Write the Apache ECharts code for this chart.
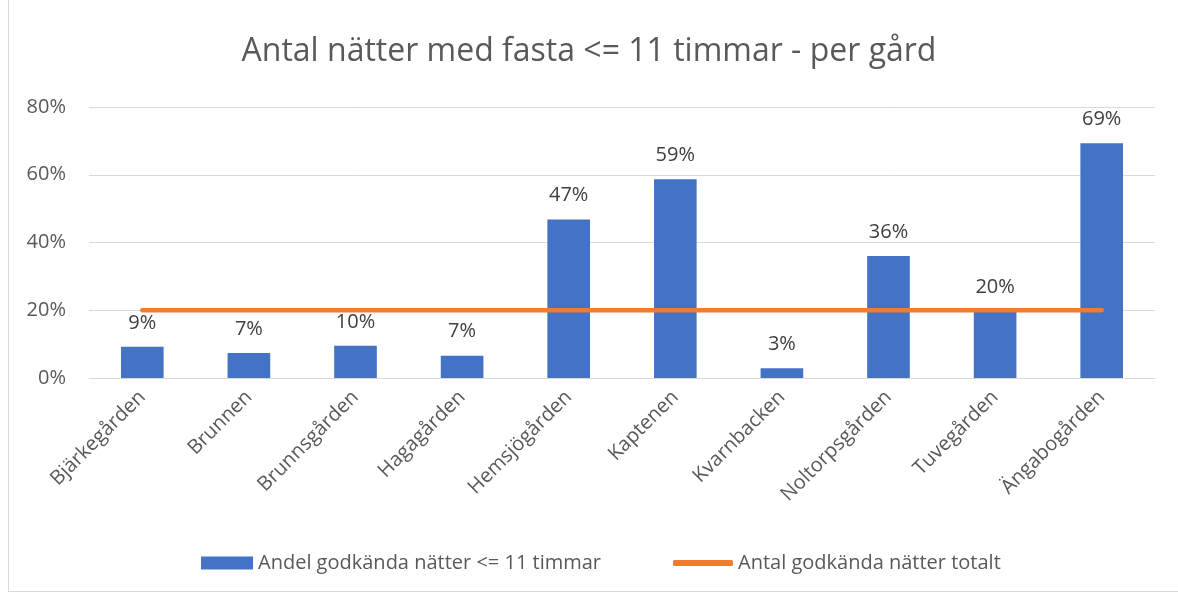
<!DOCTYPE html>
<html>
<head>
<meta charset="utf-8">
<script src="https://cdn.jsdelivr.net/npm/echarts@6/dist/echarts.min.js"></script>
<style>
  html, body { margin: 0; padding: 0; background: #fff; }
  #frame { position: absolute; left: 8px; top: -2px; width: 1180px; height: 592px; border: 1px solid #d9d9d9; }
  #chart { position: absolute; left: 0; top: 0; width: 1178px; height: 595px; }
</style>
</head>
<body>
<div id="frame"></div>
<div id="chart"></div>
<script>
// kategorier (gårdar)
var farms = ['Bjärkegården', 'Brunnen', 'Brunnsgården', 'Hagagården', 'Hemsjögården',
  'Kaptenen', 'Kvarnbacken', 'Noltorpsgården', 'Tuvegården', 'Ängabogården'];
// andel godkända nätter <= 11 timmar (%)
var shareOk = [9.2, 7.4, 9.5, 6.6, 46.8, 58.7, 2.9, 36.0, 19.7, 69.3];
// antal godkända nätter totalt (%)
var totalOk = [20, 20, 20, 20, 20, 20, 20, 20, 20, 20];
var yTicks = [0, 20, 40, 60, 80];

var barName = 'Andel godkända nätter <= 11 timmar';
var lineName = 'Antal godkända nätter totalt';
var grey = '#595959';
var chart = echarts.init(document.getElementById('chart'));
var option = {
  animation: false,
  textStyle: { fontFamily: 'Open Sans, Noto Sans, sans-serif' },
  title: {
    text: 'Antal nätter med fasta <= 11 timmar - per gård',
    left: 'center',
    top: 31,
    textStyle: { fontSize: 32, fontWeight: 'normal', color: grey }
  },
  legend: [
    {
      left: 196,
      top: 548,
      itemWidth: 52,
      itemHeight: 13,
      itemGap: 4,
      icon: 'rect',
      textStyle: { fontSize: 20, color: grey },
      data: [barName]
    },
    {
      left: 668,
      top: 548,
      itemWidth: 60,
      itemHeight: 6,
      icon: 'roundRect',
      textStyle: { fontSize: 20, color: grey },
      data: [lineName]
    }
  ],
  grid: { left: 89, right: 23, top: 107, bottom: 217 },
  xAxis: {
    type: 'category',
    data: farms,
    axisTick: { show: false },
    axisLine: { lineStyle: { color: '#d9d9d9', width: 1 } },
    axisLabel: { rotate: 45, fontSize: 20, color: grey, margin: 16, interval: 0 }
  },
  yAxis: {
    type: 'value',
    min: yTicks[0],
    max: yTicks[yTicks.length - 1],
    interval: 20,
    axisLabel: { formatter: '{value}%', fontSize: 20, color: grey, margin: 23 },
    splitLine: { lineStyle: { color: '#d9d9d9', width: 1 } }
  },
  series: [
    {
      name: barName,
      type: 'bar',
      data: shareOk,
      barWidth: '40%',
      itemStyle: { color: '#4472C4' },
      label: {
        show: true,
        position: 'top',
        distance: 14,
        fontSize: 20,
        color: '#404040',
        formatter: function (p) { return Math.round(p.value) + '%'; }
      },
      z: 2
    },
    {
      name: lineName,
      type: 'line',
      data: totalOk,
      symbol: 'none',
      lineStyle: { color: '#ED7D31', width: 4.5, cap: 'round' },
      itemStyle: { color: '#ED7D31' },
      z: 3
    }
  ]
};
chart.setOption(option);
</script>
</body>
</html>
